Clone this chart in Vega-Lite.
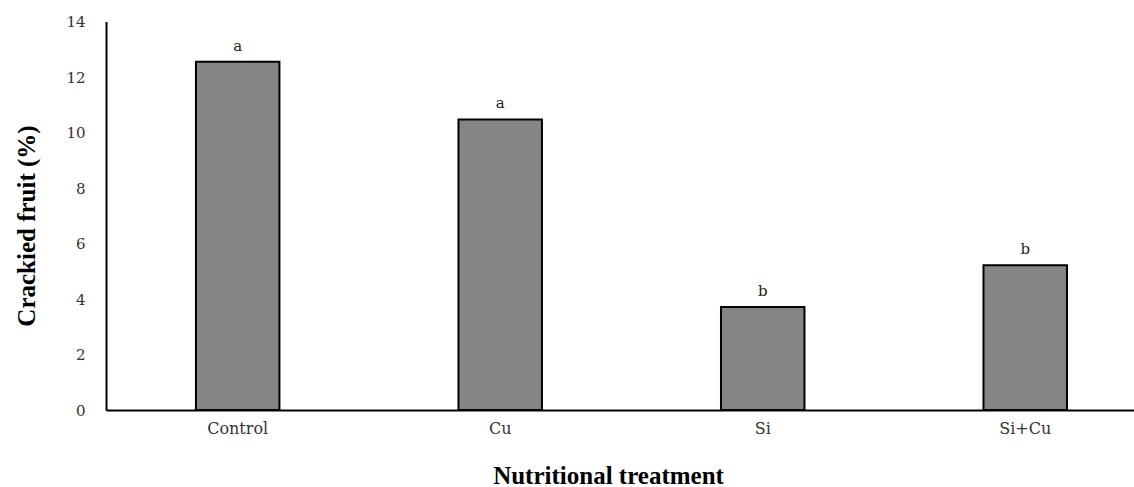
{
  "$schema": "https://vega.github.io/schema/vega-lite/v6.json",
  "autosize": {"type": "none"},
  "padding": {"left": 106, "top": 21.5, "right": 0, "bottom": 77},
  "width": 1028,
  "height": 388.5,
  "background": "white",
  "data": {
    "values": [
      {"treatment": "Control", "cracked": 12.55, "group": "a"},
      {"treatment": "Cu", "cracked": 10.47, "group": "a"},
      {"treatment": "Si", "cracked": 3.71, "group": "b"},
      {"treatment": "Si+Cu", "cracked": 5.22, "group": "b"}
    ]
  },
  "encoding": {
    "x": {
      "field": "treatment",
      "type": "nominal",
      "sort": null,
      "scale": {"paddingInner": 0.682, "paddingOuter": 0.299, "align": 0.573},
      "axis": {
        "title": "Nutritional treatment",
        "labelAngle": 0,
        "ticks": false,
        "labelPadding": 10,
        "labelFont": "DejaVu Serif",
        "labelFontSize": 16,
        "labelColor": "#333333",
        "titleFont": "Liberation Serif",
        "titleFontSize": 25,
        "titleFontWeight": "bold",
        "titleColor": "black",
        "titlePadding": 27,
        "titleX": 502,
        "domainColor": "black",
        "domainWidth": 2
      }
    },
    "y": {
      "field": "cracked",
      "type": "quantitative",
      "scale": {"domain": [0, 14], "nice": false},
      "axis": {
        "title": "Crackied fruit (%)",
        "values": [0, 2, 4, 6, 8, 10, 12, 14],
        "grid": false,
        "ticks": false,
        "labelPadding": 21,
        "labelFont": "DejaVu Serif",
        "labelFontSize": 15,
        "labelColor": "#333333",
        "titleFont": "Liberation Serif",
        "titleFontSize": 25,
        "titleFontWeight": "bold",
        "titleColor": "black",
        "titlePadding": 26,
        "titleY": 204,
        "domainColor": "black",
        "domainWidth": 2
      }
    }
  },
  "layer": [
    {
      "mark": {"type": "bar", "color": "#858585", "stroke": "black", "strokeWidth": 2}
    },
    {
      "mark": {"type": "text", "baseline": "bottom", "dy": -8, "font": "DejaVu Serif", "fontSize": 15, "color": "#222222"},
      "encoding": {"text": {"field": "group"}}
    }
  ],
  "config": {"view": {"stroke": null}}
}
